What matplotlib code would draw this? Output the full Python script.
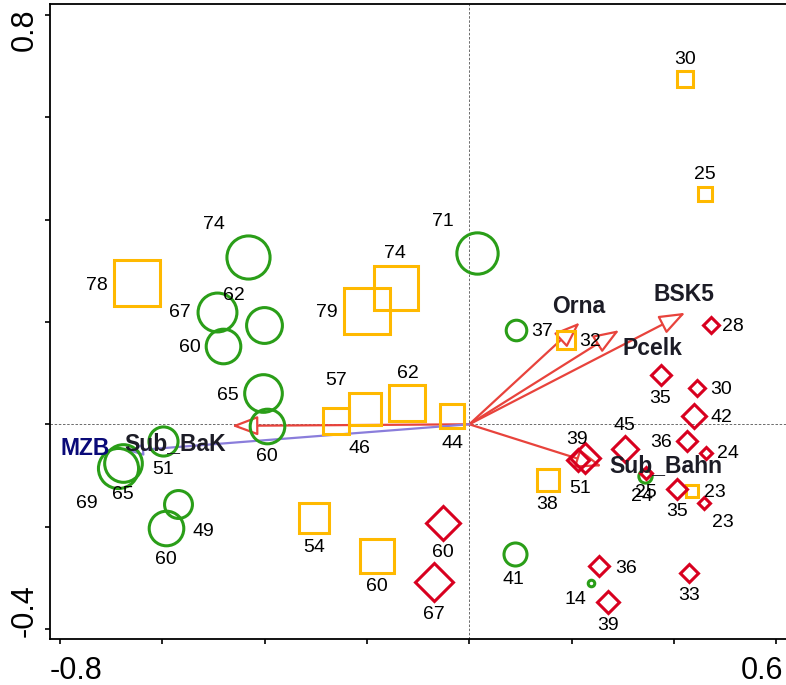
import matplotlib
matplotlib.use('Agg')
import matplotlib.pyplot as plt
import numpy as np

plt.rcParams['font.family'] = ['Liberation Sans', 'DejaVu Sans']

# samples shown as yellow squares (value = number printed next to it)
sq_val = [78, 79, 74, 62, 57, 46, 44, 54, 60, 38, 32, 30, 25, 23]
sq_x = [-0.650, -0.200, -0.144, -0.121, -0.203, -0.260, -0.034, -0.303, -0.180, 0.154, 0.189, 0.422, 0.461, 0.436]
sq_y = [0.276, 0.221, 0.267, 0.042, 0.030, 0.006, 0.017, -0.183, -0.257, -0.109, 0.165, 0.675, 0.451, -0.130]
sq_lx = [-0.728, -0.279, -0.145, -0.121, -0.261, -0.214, -0.032, -0.304, -0.181, 0.153, 0.236, 0.422, 0.461, 0.479]
sq_ly = [0.272, 0.219, 0.333, 0.100, 0.085, -0.047, -0.037, -0.240, -0.317, -0.156, 0.161, 0.713, 0.489, -0.133]

# samples shown as green circles
ci_val = [74, 67, 62, 60, 65, 60, 51, 65, 69, 49, 60, 71, 37, 41, 14, 25]
ci_x = [-0.433, -0.494, -0.401, -0.481, -0.403, -0.396, -0.598, -0.677, -0.686, -0.569, -0.593, 0.016, 0.091, 0.089, 0.237, 0.344]
ci_y = [0.326, 0.220, 0.194, 0.153, 0.061, -0.003, -0.032, -0.076, -0.086, -0.156, -0.202, 0.334, 0.184, -0.254, -0.310, -0.102]
ci_lx = [-0.499, -0.565, -0.461, -0.546, -0.472, -0.395, -0.599, -0.677, -0.748, -0.519, -0.593, -0.051, 0.142, 0.087, 0.208, 0.345]
ci_ly = [0.391, 0.218, 0.251, 0.151, 0.057, -0.063, -0.088, -0.138, -0.154, -0.209, -0.264, 0.396, 0.181, -0.304, -0.342, -0.134]

# samples shown as red diamonds
di_val = [28, 35, 30, 42, 36, 24, 45, 39, 51, 24, 35, 23, 60, 67, 36, 39, 33]
di_x = [0.472, 0.374, 0.444, 0.439, 0.425, 0.463, 0.304, 0.213, 0.226, 0.345, 0.405, 0.459, -0.052, -0.069, 0.254, 0.271, 0.429]
di_y = [0.194, 0.096, 0.070, 0.016, -0.032, -0.057, -0.048, -0.070, -0.066, -0.096, -0.127, -0.153, -0.192, -0.308, -0.277, -0.347, -0.290]
di_lx = [0.516, 0.373, 0.492, 0.493, 0.374, 0.505, 0.304, 0.211, 0.216, 0.337, 0.407, 0.495, -0.052, -0.070, 0.306, 0.271, 0.429]
di_ly = [0.192, 0.051, 0.068, 0.013, -0.035, -0.058, -0.003, -0.029, -0.125, -0.142, -0.171, -0.192, -0.251, -0.371, -0.281, -0.394, -0.334]

# environmental variables (arrows from the origin)
env_names = ['Orna', 'Pcelk', 'BSK5', 'Sub_Bahn', 'Sub_BaK', 'MZB']
env_x = [0.216, 0.293, 0.422, 0.259, -0.464, -0.668]
env_y = [0.199, 0.184, 0.218, -0.082, -0.003, -0.052]
env_lx = [0.213, 0.357, 0.420, 0.385, -0.575, -0.751]
env_ly = [0.231, 0.149, 0.253, -0.080, -0.037, -0.047]

GREEN = '#2A9E18'
YELLOW = '#FFB900'
RED = '#D8001F'
ARROW = '#E8433C'
PURPLE = '#8A7DDB'

PX = 72 / 100  # points per pixel at 100 dpi


def marker_pt(v):
    return (0.61 * v - 2) * PX


fig = plt.figure(figsize=(7.86, 6.85), dpi=100)
ax = fig.add_axes([50 / 786, 46 / 685, 736 / 786, 634.7 / 685])
ax.set_xlim(-0.8194, 0.6189)
ax.set_ylim(-0.4196, 0.8208)

ax.axhline(0, color='#555555', lw=0.6, ls=(0, (3, 2)), zorder=1)
ax.axvline(0, color='#555555', lw=0.6, ls=(0, (3, 2)), zorder=1)

# arrows
for i, name in enumerate(env_names):
    if name == 'MZB':
        col, hl, hw = PURPLE, 0.9, 0.35
    else:
        col, hl, hw = ARROW, 1.6, 0.6
    ax.annotate('', xy=(env_x[i], env_y[i]), xytext=(0, 0),
                arrowprops=dict(arrowstyle='-|>,head_length=%s,head_width=%s' % (hl, hw),
                                ec=col, fc='white', lw=1.6, mutation_scale=10,
                                shrinkA=0, shrinkB=0),
                zorder=2)

# points
for v, x, y in zip(sq_val, sq_x, sq_y):
    ax.plot(x, y, 's', ms=marker_pt(v), mfc='none', mec=YELLOW, mew=2.2, zorder=3)
for v, x, y in zip(ci_val, ci_x, ci_y):
    ax.plot(x, y, 'o', ms=marker_pt(v), mfc='none', mec=GREEN, mew=2.2, zorder=3)
for v, x, y in zip(di_val, di_x, di_y):
    ax.plot(x, y, 'D', ms=marker_pt(v) / np.sqrt(2), mfc='none', mec=RED, mew=2.2, zorder=3)

# point labels
for vals, lx, ly in [(sq_val, sq_lx, sq_ly), (ci_val, ci_lx, ci_ly), (di_val, di_lx, di_ly)]:
    for v, x, y in zip(vals, lx, ly):
        ax.text(x, y, str(v), fontsize=14, ha='center', va='center', color='black', zorder=5)

# arrow labels
for i, name in enumerate(env_names):
    col = '#0A0A78' if name == 'MZB' else '#1C1C26'
    ax.text(env_lx[i], env_ly[i], name, fontsize=16.5, fontweight='bold',
            ha='center', va='center', color=col, zorder=6)

# axes styling
ax.spines['right'].set_visible(False)
for s in ['left', 'top', 'bottom']:
    ax.spines[s].set_linewidth(1.3)
ax.set_xticks(np.arange(-0.8, 0.61, 0.2))
ax.set_yticks(np.arange(-0.4, 0.81, 0.2))
ax.set_xticklabels([])
ax.set_yticklabels([])
ax.tick_params(direction='out', length=3.6, width=1.2)

# end labels of the axes
ax.annotate('-0.8', xy=(0, 0), xycoords='axes fraction', xytext=(0, -40 * PX),
            textcoords='offset points', ha='left', va='baseline', fontsize=22)
ax.annotate('0.6', xy=(1, 0), xycoords='axes fraction', xytext=(-3 * PX, -40 * PX),
            textcoords='offset points', ha='right', va='baseline', fontsize=22)
ax.annotate('0.8', xy=(0, 1), xycoords='axes fraction', xytext=(-17 * PX, -4 * PX),
            textcoords='offset points', ha='right', va='baseline', fontsize=22,
            rotation=90, rotation_mode='anchor')
ax.annotate('-0.4', xy=(0, 0), xycoords='axes fraction', xytext=(-17 * PX, 2 * PX),
            textcoords='offset points', ha='left', va='baseline', fontsize=22,
            rotation=90, rotation_mode='anchor')

fig.savefig('out.png', dpi=100)
